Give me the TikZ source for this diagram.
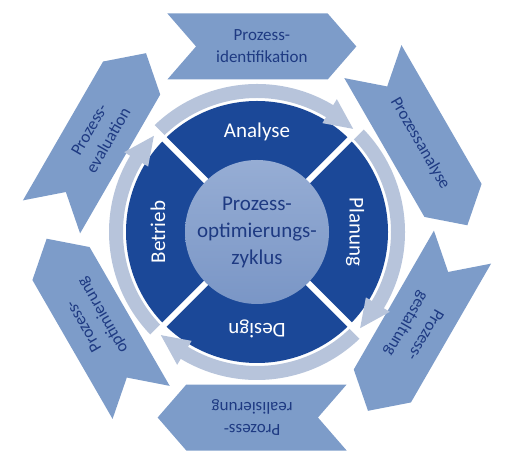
\documentclass[tikz,border=0pt]{standalone}
\usepackage{fontspec}
\setmainfont{Carlito}
\usetikzlibrary{shapes.symbols,calc}
\definecolor{chevblue}{RGB}{125,156,201}
\definecolor{chevtext}{RGB}{30,58,130}
\definecolor{ringdark}{RGB}{27,72,152}
\definecolor{ringlight}{RGB}{183,196,219}
\definecolor{hubtop}{RGB}{150,173,212}
\definecolor{hubbot}{RGB}{122,150,198}

\tikzset{
  stage/.style={signal, signal to=east, signal from=west, signal pointer angle=98,
    fill=chevblue, text=chevtext, font=\fontsize{17}{22}\selectfont, align=center,
    minimum width=189pt, minimum height=66pt, inner sep=0pt},
  phase/.style={text=white, font=\fontsize{21}{25}\selectfont},
}

\begin{document}
\begin{tikzpicture}[x=1pt, y=1pt]
  \useasboundingbox (0,0) rectangle (513,462);
  \coordinate (c) at (257,230);
  % outer process chevrons
  \node[stage, rotate=0] (ident) at ($(c)+(88.5:185.6)$) {Prozess-\\identifikation};
  \node[stage, rotate=-60] (anal) at ($(c)+(28.5:185.6)$) {Prozessanalyse};
  \node[stage, rotate=-120] (gest) at ($(c)+(-31.5:185.6)$) {Prozess-\\gestaltung};
  \node[stage, rotate=180] (real) at ($(c)+(-91.5:185.6)$) {Prozess-\\realisierung};
  \node[stage, rotate=120] (opti) at ($(c)+(-151.5:185.6)$) {Prozess-\\optimierung};
  \node[stage, rotate=60] (eval) at ($(c)+(148.5:185.6)$) {Prozess-\\evaluation};
  % cycle disc
  \fill[ringdark] (c) circle[radius=131];
  \foreach \k in {0,...,3}{
    \pgfmathsetmacro{\startang}{135-90*\k}
    \pgfmathsetmacro{\tipang}{47-90*\k}
    \pgfmathsetmacro{\baseang}{\tipang+12}
    \fill[ringlight] ($(c)+(\startang:148)$) arc[start angle=\startang, end angle=\baseang, radius=148]
      -- ($(c)+(\baseang:155)$) -- ($(c)+(\tipang:141)$) -- ($(c)+(\baseang:127)$)
      -- ($(c)+(\baseang:134)$) arc[start angle=\baseang, end angle=\startang, radius=134] -- cycle;
  }
  \foreach \a in {45,135,225,315}
    \draw[white, line width=6pt] ($(c)+(\a:70)$) -- ($(c)+(\a:151)$);
  \node[circle, minimum size=144pt, inner sep=0pt, top color=hubtop, bottom color=hubbot,
    text=chevtext, align=center, font=\fontsize{21}{27}\selectfont] (hub) at (c)
    {Prozess-\\optimierungs-\\zyklus};
  \node[phase] (analyse) at ($(c)+(90:100)$) {Analyse};
  \node[phase, rotate=-90] (planung) at ($(c)+(0:98)$) {Planung};
  \node[phase, rotate=180] (design) at ($(c)+(-90:97)$) {Design};
  \node[phase, rotate=90] (betrieb) at ($(c)+(180:99)$) {Betrieb};
\end{tikzpicture}
\end{document}
